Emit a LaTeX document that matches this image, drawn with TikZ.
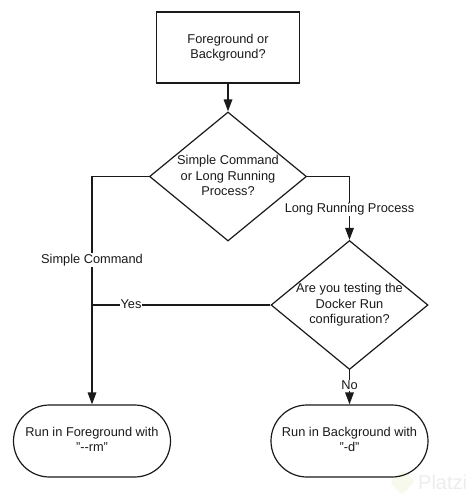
\documentclass[tikz,border=0pt]{standalone}
\usepackage{fontspec}
\setmainfont{Liberation Sans}
\usetikzlibrary{shapes.geometric,shapes.misc,arrows.meta}
\definecolor{ink}{HTML}{1A1A1A}
\definecolor{leafmark}{HTML}{F6F9EC}
\definecolor{textmark}{HTML}{EDEDED}
\tikzset{
  labelfont/.style={font=\fontsize{12.8}{15.5}\selectfont},
  base/.style={draw=ink,line width=1.2pt,text=ink,align=center,inner sep=0pt,labelfont},
  startbox/.style={base,rectangle,minimum width=143pt,minimum height=71pt},
  decision/.style={draw=ink,line width=1.2pt,diamond,inner sep=0pt,aspect=1.2,minimum width=157pt,minimum height=129pt},
  inlabel/.style={text=ink,align=center,inner sep=0pt,labelfont},
  terminal/.style={draw=ink,line width=1.2pt,rounded rectangle,inner sep=0pt,minimum width=157pt,minimum height=72pt},
  link/.style={draw=ink,line width=1.2pt},
  arrowlink/.style={link,line width=1.7pt,-{Triangle[length=12pt,width=8.5pt]}},
  edgelabel/.style={fill=white,text=ink,inner sep=1pt,labelfont}
}
\begin{document}
\begin{tikzpicture}[x=1pt,y=-1pt]
\useasboundingbox (0,0) rectangle (475,500);
\fill[white] (0,0) rectangle (475,500);
\fill[leafmark,rounded corners=3pt] (403,470) -- (415,481) -- (402,495) -- (390,482) -- cycle;
\node[text=textmark,font=\fontsize{20}{20}\selectfont,anchor=west,inner sep=0pt] (mark) at (418,482) {Platzi};
\node[startbox] (start) at (228,47.5) {Foreground or\\Background?};
\node[decision] (d1) at (228,176.5) {};
\node[inlabel] (d1text) at (228,175.5) {Simple Command\\or Long Running\\Process?};
\node[decision] (d2) at (349.5,305) {};
\node[inlabel] (d2text) at (d2.center) {Are you testing the\\Docker Run\\configuration?};
\node[terminal] (t1) at (92,441) {};
\node[inlabel] (t1text) at (92,439.5) {Run in Foreground with\\"-{}-rm"};
\node[terminal] (t2) at (349.5,441) {};
\node[inlabel] (t2text) at (349.5,439.5) {Run in Background with\\"-d"};
\coordinate (join) at (d2.west -| t1.north);
\draw[arrowlink] (start) -- (d1);
\draw[link] (d1.west) -| (join);
\draw[arrowlink] (join) -- (t1.north);
\draw[arrowlink] (d1.east) -| (d2.north);
\draw[link] (d2.west) -- (join);
\draw[arrowlink] (d2) -- (t2);
\node[edgelabel] (lsimple) at (92,260) {Simple Command};
\node[edgelabel] (llong) at (349.5,209.5) {Long Running Process};
\node[edgelabel] (lyes) at (131,304) {Yes};
\node[edgelabel] (lno) at (349.5,385.5) {No};
\end{tikzpicture}
\end{document}
